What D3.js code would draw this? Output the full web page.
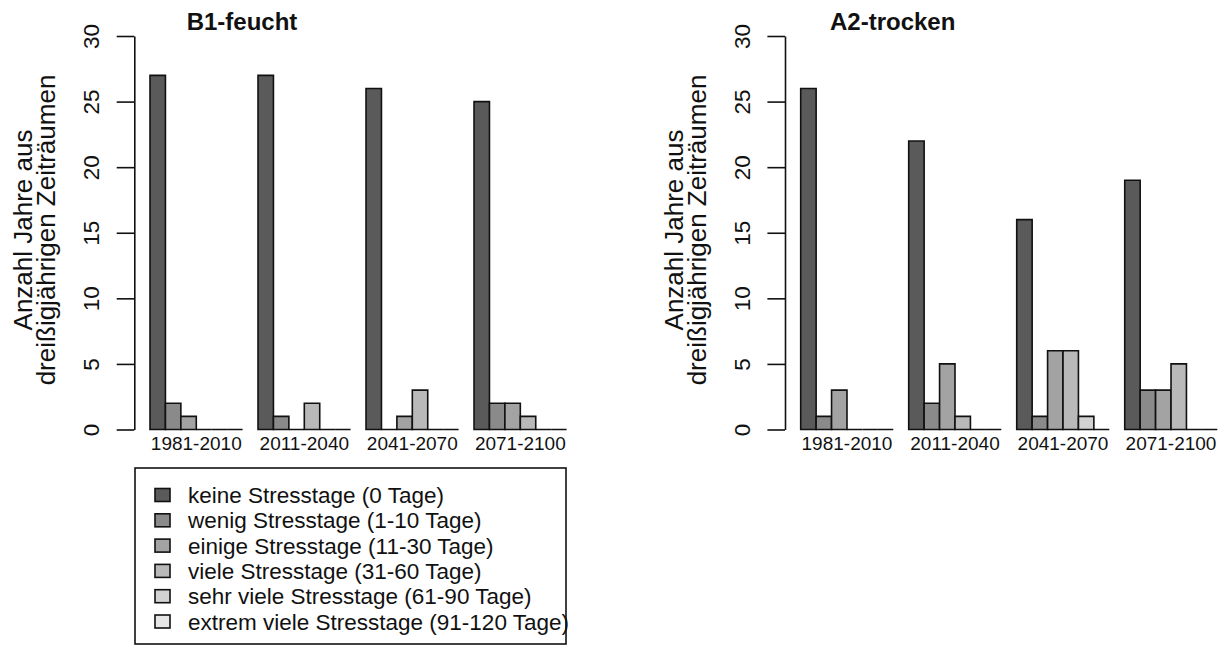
<!DOCTYPE html>
<html>
<head>
<meta charset="utf-8">
<script src="https://cdn.jsdelivr.net/npm/d3@7"></script>
<style>
  body { margin: 0; background: #fff; }
  text { font-family: "Liberation Sans", Arial, Helvetica, sans-serif; fill: #111; }
</style>
</head>
<body>
<div id="chart"></div>
<script>
// data
var periods = ["1981-2010", "2011-2040", "2041-2070", "2071-2100"];
var categories = [
  "keine Stresstage (0 Tage)",
  "wenig Stresstage (1-10 Tage)",
  "einige Stresstage (11-30 Tage)",
  "viele Stresstage (31-60 Tage)",
  "sehr viele Stresstage (61-90 Tage)",
  "extrem viele Stresstage (91-120 Tage)"
];
var b1Values = [[27, 2, 1, 0, 0, 0], [27, 1, 0, 2, 0, 0], [26, 0, 1, 3, 0, 0], [25, 2, 2, 1, 0, 0]];
var a2Values = [[26, 1, 3, 0, 0, 0], [22, 2, 5, 1, 0, 0], [16, 1, 6, 6, 1, 0], [19, 3, 3, 5, 0, 0]];
var yTicks = [0, 5, 10, 15, 20, 25, 30];
var greys = ["#5a5a5a", "#8a8a8a", "#a3a3a3", "#b9b9b9", "#d2d2d2", "#e6e6e6"];

var w = 1226, h = 646;
var svg = d3.select("#chart").append("svg").attr("width", w).attr("height", h);

var y = d3.scaleLinear().domain([0, 30]).range([429.5, 36]);
var color = d3.scaleOrdinal().domain(categories).range(greys);

function drawPanel(title, values, x0) {
    var unit = 15.43;
    var g = svg.append("g");

    // group bands: 6 bars + 1 space each
    var xGroup = d3.scaleBand().domain(periods).range([x0, x0 + 27 * unit]).paddingInner(1 / 7).paddingOuter(0);
    var xCat = d3.scaleBand().domain(categories).range([0, xGroup.bandwidth()]);

    var bars = [];
    values.forEach(function(row, i) {
        row.forEach(function(v, j) {
            bars.push({period: periods[i], cat: categories[j], value: v});
        });
    });

    // paths so that zero-height bars still show their border
    g.selectAll("path.bar")
        .data(bars)
        .enter()
        .append("path")
        .attr("class", "bar")
        .attr("d", function(d) {
            var xa = xGroup(d.period) + xCat(d.cat), bw = xCat.bandwidth();
            var ya = y(d.value), yb = y(0);
            return "M" + xa + "," + yb + "V" + ya + "H" + (xa + bw) + "V" + yb + "Z";
        })
        .style("fill", function(d) { return color(d.cat); })
        .style("stroke", "#111")
        .style("stroke-width", 1.6);

    // y axis
    var axisX = x0 - 15.7;
    var ax = g.append("g")
        .attr("transform", "translate(" + axisX + ",0)")
        .call(d3.axisLeft(y).tickValues(yTicks).tickSize(17.6).tickSizeOuter(0).tickFormat(d3.format("d")));
    ax.select(".domain").style("stroke", "#111").style("stroke-width", 1.6);
    ax.selectAll(".tick line").style("stroke", "#111").style("stroke-width", 1.6);
    ax.selectAll(".tick text")
        .attr("x", null).attr("dy", null)
        .attr("text-anchor", "middle")
        .attr("transform", "translate(" + (-35.5) + ",0) rotate(-90)")
        .style("font-size", "22.5px")
        .style("font-family", "'Liberation Sans', Arial, sans-serif")
        .attr("fill", "#111");

    // x labels
    g.selectAll("text.xlab")
        .data(periods)
        .enter()
        .append("text")
        .attr("class", "xlab")
        .attr("x", function(d) { return xGroup(d) + xGroup.bandwidth() / 2; })
        .attr("y", 450)
        .attr("text-anchor", "middle")
        .style("font-size", "19px")
        .text(function(d) { return d; });

    // title
    g.append("text")
        .attr("x", x0 + 92)
        .attr("y", 30)
        .attr("text-anchor", "middle")
        .style("font-size", "24px")
        .style("font-weight", "bold")
        .text(title);

    // y label, two lines
    var lx = x0 - 150;
    [["Anzahl Jahre aus", 32], ["dreißigjährigen Zeiträumen", 55]].forEach(function(l) {
        g.append("text")
            .attr("transform", "translate(" + (lx + l[1]) + ",230) rotate(-90)")
            .attr("text-anchor", "middle")
            .style("font-size", "26px")
            .text(l[0]);
    });
}

drawPanel("B1-feucht", b1Values, 150);
drawPanel("A2-trocken", a2Values, 800.7);

// legend
var leg = svg.append("g");
leg.append("rect")
    .attr("x", 135).attr("y", 468)
    .attr("width", 431).attr("height", 176)
    .style("fill", "none").style("stroke", "#111").style("stroke-width", 1.6);

var rowY = d3.scalePoint().domain(categories).range([495, 621.5]);
var items = leg.selectAll("g.item")
    .data(categories)
    .enter()
    .append("g")
    .attr("class", "item")
    .attr("transform", function(d) { return "translate(0," + rowY(d) + ")"; });
items.append("rect")
    .attr("x", 155).attr("y", -6.5)
    .attr("width", 15).attr("height", 13)
    .style("fill", function(d) { return color(d); })
    .style("stroke", "#111").style("stroke-width", 1.6);
items.append("text")
    .attr("x", 188).attr("y", 8)
    .style("font-size", "22.5px")
    .text(function(d) { return d; });
</script>
</body>
</html>
